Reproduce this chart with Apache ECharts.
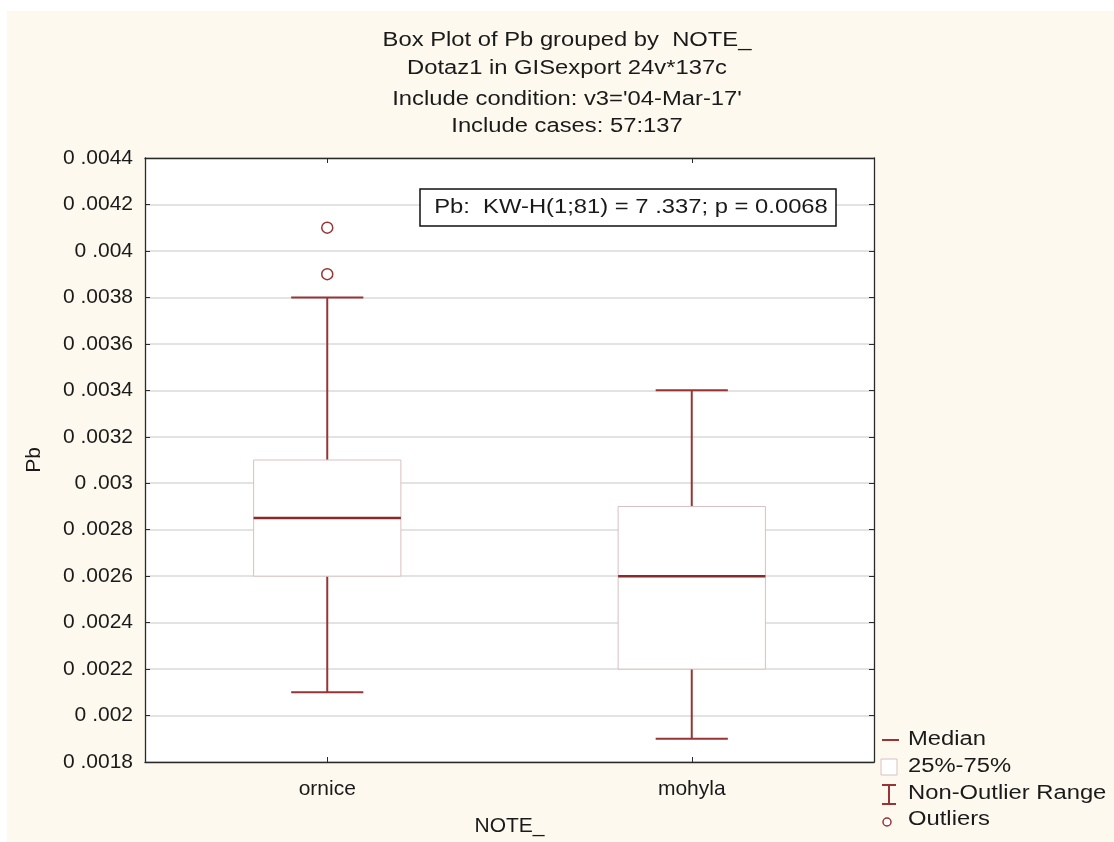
<!DOCTYPE html>
<html><head><meta charset="utf-8">
<script src="https://cdn.jsdelivr.net/npm/echarts@6/dist/echarts.min.js"></script>
<style>html,body{margin:0;padding:0;background:#fff}#c{width:1114px;height:842px}</style>
</head><body><div id="c"></div><script>
// ---- data ----
const categories = ['ornice', 'mohyla'];
const whiskerLow = [0.0021, 0.0019];
const quartile1 = [0.0026, 0.0022];
const medians = [0.00285, 0.0026];
const quartile3 = [0.0031, 0.0029];
const whiskerHigh = [0.0038, 0.0034];
const outlierCategory = ['ornice', 'ornice'];
const outlierValue = [0.0041, 0.0039];
const yTickLabels = ['0 .0018','0 .002','0 .0022','0 .0024','0 .0026','0 .0028','0 .003','0 .0032','0 .0034','0 .0036','0 .0038','0 .004','0 .0042','0 .0044'];
const titleLines = ['Box Plot of Pb grouped by  NOTE_', 'Dotaz1 in GISexport 24v*137c', "Include condition: v3='04-Mar-17'", 'Include cases: 57:137'];
const statText = 'Pb:  KW-H(1;81) = 7 .337; p = 0.0068';
const legendLabels = ['Median', '25%-75%', 'Non-Outlier Range', 'Outliers'];
const xAxisName = 'NOTE_';
const yAxisName = 'Pb';

// ---- styles ----
const FONT = '"Liberation Sans", Arial, sans-serif';
const RED = '#983434';
const MED = '#862a2a';
const BOXLINE = '#d8c0c0';
const AXIS = '#2a2a2a';
const TXT = '#1a1a1a';
const SX = 1.22;
const yMin = 0.0018, yMax = 0.0044, yStep = 0.0002;

const boxData = categories.map((c, i) => [i, whiskerLow[i], quartile1[i], medians[i], quartile3[i], whiskerHigh[i]]);
const outlierData = outlierValue.map((v, i) => [categories.indexOf(outlierCategory[i]), v]);

function renderBox(params, api) {
  const idx = api.value(0);
  const band = api.size([1, 0])[0];
  const bw = band * 0.404, cw = band * 0.198;
  const pL = api.coord([idx, api.value(1)]);
  const p1 = api.coord([idx, api.value(2)]);
  const pM = api.coord([idx, api.value(3)]);
  const p3 = api.coord([idx, api.value(4)]);
  const pH = api.coord([idx, api.value(5)]);
  const x = pM[0];
  const ls = { stroke: RED, lineWidth: 2 };
  return { type: 'group', children: [
    { type: 'line', shape: { x1: x, y1: p3[1], x2: x, y2: pH[1] }, style: ls },
    { type: 'line', shape: { x1: x, y1: p1[1], x2: x, y2: pL[1] }, style: ls },
    { type: 'line', shape: { x1: x - cw / 2, y1: pH[1], x2: x + cw / 2, y2: pH[1] }, style: ls },
    { type: 'line', shape: { x1: x - cw / 2, y1: pL[1], x2: x + cw / 2, y2: pL[1] }, style: ls },
    { type: 'rect', shape: { x: x - bw / 2, y: p3[1], width: bw, height: p1[1] - p3[1] }, style: { fill: '#fff', stroke: BOXLINE, lineWidth: 1 } },
    { type: 'line', shape: { x1: x - bw / 2, y1: pM[1], x2: x + bw / 2, y2: pM[1] }, style: { stroke: MED, lineWidth: 2.5 } }
  ]};
}

function txt(text, x, y, align, extra) {
  return Object.assign({ type: 'text', x: x, y: y, scaleX: SX, z: 10,
    style: { text: text, fontSize: 19.5, fontFamily: FONT, fill: TXT, align: align, verticalAlign: 'middle' } }, extra || {});
}

const graphics = [
  { type: 'rect', z: -10, shape: { x: 7, y: 11, width: 1107, height: 831 }, style: { fill: '#fdf9ee' } },
];
const titleY = [41, 69, 100, 127];
titleLines.forEach((t, i) => graphics.push(txt(t, 567, titleY[i], 'center')));
graphics.push({ type: 'rect', z: 9, shape: { x: 420, y: 189, width: 416, height: 37 }, style: { fill: '#fff', stroke: '#111', lineWidth: 1.5 } });
graphics.push(txt(statText, 631, 208, 'center'));
const legY = [740, 767, 794, 820];
legendLabels.forEach((t, i) => graphics.push(txt(t, 908, legY[i], 'left')));
graphics.push({ type: 'line', z: 10, shape: { x1: 882, y1: legY[0], x2: 899, y2: legY[0] }, style: { stroke: RED, lineWidth: 2 } });
graphics.push({ type: 'rect', z: 10, shape: { x: 881, y: legY[1] - 8, width: 16, height: 16 }, style: { fill: '#fff', stroke: BOXLINE, lineWidth: 1 } });
graphics.push({ type: 'line', z: 10, shape: { x1: 889, y1: legY[2] - 9, x2: 889, y2: legY[2] + 10 }, style: { stroke: RED, lineWidth: 2 } });
graphics.push({ type: 'line', z: 10, shape: { x1: 882, y1: legY[2] - 9, x2: 896, y2: legY[2] - 9 }, style: { stroke: RED, lineWidth: 2 } });
graphics.push({ type: 'line', z: 10, shape: { x1: 882, y1: legY[2] + 10, x2: 896, y2: legY[2] + 10 }, style: { stroke: RED, lineWidth: 2 } });
graphics.push({ type: 'circle', z: 10, shape: { cx: 887, cy: legY[3] + 2, r: 4 }, style: { fill: '#fff', stroke: RED, lineWidth: 1.5 } });

const chart = echarts.init(document.getElementById('c'), null, { renderer: 'canvas' });
chart.setOption({
  backgroundColor: '#fff',
  animation: false,
  grid: { left: 145, top: 158, width: 729, height: 604, show: true, backgroundColor: '#fff', borderWidth: 0 },
  xAxis: [
    { type: 'category', data: categories, position: 'bottom',
      axisLine: { show: true, lineStyle: { color: AXIS, width: 1.3 } },
      axisTick: { show: true, inside: true, alignWithLabel: true, length: 5, lineStyle: { color: AXIS } },
      axisLabel: { fontSize: 21, fontFamily: FONT, color: TXT, margin: 17 },
      splitLine: { show: false },
      name: xAxisName, nameLocation: 'middle', nameGap: 54,
      nameTextStyle: { fontSize: 21, fontFamily: FONT, color: TXT } },
    { type: 'category', data: categories, position: 'top',
      axisLine: { show: true, lineStyle: { color: AXIS, width: 1.3 } },
      axisTick: { show: true, inside: true, alignWithLabel: true, length: 5, lineStyle: { color: AXIS } },
      axisLabel: { show: false }, splitLine: { show: false } }
  ],
  yAxis: [
    { type: 'value', min: yMin, max: yMax, interval: yStep, position: 'left',
      axisLine: { show: true, lineStyle: { color: AXIS, width: 1.3 } },
      axisTick: { show: true, inside: true, length: 5, lineStyle: { color: AXIS } },
      axisLabel: { fontSize: 21, fontFamily: FONT, color: TXT, margin: 12,
        formatter: v => yTickLabels[Math.round((v - yMin) / yStep)] },
      splitLine: { show: true, lineStyle: { color: '#dadada', width: 1.5 } },
      name: yAxisName, nameLocation: 'middle', nameGap: 100, nameRotate: 90,
      nameTextStyle: { fontSize: 21, fontFamily: FONT, color: TXT } },
    { type: 'value', min: yMin, max: yMax, interval: yStep, position: 'right',
      axisLine: { show: true, lineStyle: { color: AXIS, width: 1.3 } },
      axisTick: { show: true, inside: true, length: 5, lineStyle: { color: AXIS } },
      axisLabel: { show: false }, splitLine: { show: false } }
  ],
  graphic: graphics,
  series: [
    { type: 'custom', xAxisIndex: 0, yAxisIndex: 0, data: boxData, renderItem: renderBox,
      encode: { x: 0, y: [1, 2, 3, 4, 5] }, z: 3 },
    { type: 'scatter', xAxisIndex: 0, yAxisIndex: 0, data: outlierData, symbol: 'circle', symbolSize: 11,
      itemStyle: { color: '#fff', borderColor: RED, borderWidth: 1.5, opacity: 1 }, z: 4 }
  ]
});
</script></body></html>
